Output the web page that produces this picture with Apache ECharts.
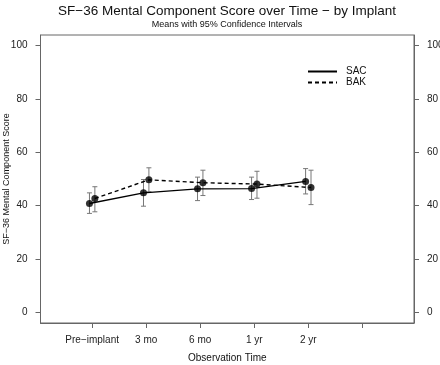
<!DOCTYPE html>
<html><head><meta charset="utf-8">
<script src="https://cdn.jsdelivr.net/npm/echarts@6/dist/echarts.min.js"></script>
<style>html,body{margin:0;padding:0;background:#fff}#c{width:440px;height:365px}</style>
</head><body><div id="c"></div>
<script>
const categories = ['Pre\u2212implant','3 mo','6 mo','1 yr','2 yr'];
const xTicks = [1,2,3,4,5,6];
const yTicks = [0,20,40,60,80,100];
const sacMean = [40.8, 44.8, 46.3, 46.4, 49.1];
const sacLow  = [37.1, 39.8, 41.9, 42.3, 44.4];
const sacHigh = [44.8, 49.8, 50.7, 50.7, 53.9];
const bakMean = [42.7, 49.7, 48.6, 48.1, 46.8];
const bakLow  = [37.7, 45.2, 43.8, 42.8, 40.4];
const bakHigh = [47.1, 54.2, 53.3, 52.9, 53.3];
const offset = 0.05;

const FONT = 'Liberation Sans, Arial, sans-serif';
const AX = '#666';

function pts(mean, off){ return mean.map((v,i)=>[i+1+off, v]); }
function bars(lo, hi, off){ return lo.map((v,i)=>[i+1+off, v, hi[i]]); }

function errSeries(lo, hi, off){
  return {
    type:'custom', silent:true, z:3,
    data: bars(lo, hi, off),
    renderItem: function(params, api){
      const x = api.value(0);
      const a = api.coord([x, api.value(1)]);
      const b = api.coord([x, api.value(2)]);
      const w = 2.5;
      const st = {stroke:'#777', lineWidth:1};
      return {type:'group', children:[
        {type:'line', shape:{x1:a[0],y1:a[1],x2:b[0],y2:b[1]}, style:st},
        {type:'line', shape:{x1:a[0]-w,y1:a[1],x2:a[0]+w,y2:a[1]}, style:st},
        {type:'line', shape:{x1:b[0]-w,y1:b[1],x2:b[0]+w,y2:b[1]}, style:st}
      ]};
    }
  };
}

const chart = echarts.init(document.getElementById('c'), null, {renderer:'canvas'});
const yAxisBase = {
  type:'value', min:-4, max:104,
  splitLine:{show:false},
  axisLine:{show:true, onZero:false, lineStyle:{color:AX}},
  axisTick:{show:true, length:5, customValues:yTicks, lineStyle:{color:AX}},
  axisLabel:{customValues:yTicks, color:'#222', fontSize:10, fontFamily:FONT, margin:13}
};
chart.setOption({
  animation:false,
  title:[
    {text:'SF\u221236 Mental Component Score over Time \u2212 by Implant', left:227, top:4, padding:0, textAlign:'center',
     textStyle:{fontSize:13.5, fontWeight:'normal', color:'#111', fontFamily:FONT}},
    {text:'Means with 95% Confidence Intervals', left:227, top:20, padding:0, textAlign:'center',
     textStyle:{fontSize:9, fontWeight:'normal', color:'#111', fontFamily:FONT}}
  ],
  grid:{left:40.5, right:26, top:35, bottom:42, containLabel:false, outerBoundsMode:'none',
        show:true, borderColor:AX, borderWidth:1, backgroundColor:'transparent'},
  legend:{
    orient:'vertical', left:307, top:66.5, padding:0, itemWidth:29, itemHeight:11, itemGap:1,
    data:['SAC','BAK'],
    itemStyle:{opacity:0},
    textStyle:{fontSize:10, color:'#111', fontFamily:FONT, padding:[0,0,0,4]}
  },
  xAxis:{
    type:'value', min:0.044, max:6.956,
    name:'Observation Time', nameLocation:'middle', nameGap:30, nameMoveOverlap:false,
    nameTextStyle:{fontSize:10, color:'#111', fontFamily:FONT},
    splitLine:{show:false},
    axisLine:{show:true, onZero:false, lineStyle:{color:AX}},
    axisTick:{show:true, length:5, customValues:xTicks, lineStyle:{color:AX}},
    axisLabel:{customValues:[1,2,3,4,5], color:'#222', fontSize:10, fontFamily:FONT, margin:12,
      formatter:function(v){ const i=Math.round(v)-1; return categories[i]||''; }}
  },
  yAxis:[
    Object.assign({}, yAxisBase, {position:'left',
      name:'SF\u221236 Mental Component Score', nameLocation:'middle', nameGap:29, nameMoveOverlap:false,
      nameTextStyle:{fontSize:9, color:'#111', fontFamily:FONT}}),
    Object.assign({}, yAxisBase, {position:'right'})
  ],
  series:[
    errSeries(sacLow, sacHigh, -offset),
    errSeries(bakLow, bakHigh, offset),
    {name:'SAC', type:'line', data:pts(sacMean,-offset), symbol:'none', z:4,
     itemStyle:{color:'#000'}, lineStyle:{color:'#000', width:1.4, type:'solid'}},
    {name:'BAK', type:'line', data:pts(bakMean,offset), symbol:'none', z:4,
     itemStyle:{color:'#000'}, lineStyle:{color:'#000', width:1.4, type:[4,3]}},
    {type:'scatter', data:pts(sacMean,-offset), symbolSize:7, itemStyle:{color:'#000'}, z:5, silent:true},
    {type:'scatter', data:pts(bakMean,offset), symbolSize:7, itemStyle:{color:'#000'}, z:5, silent:true}
  ]
});
</script></body></html>
